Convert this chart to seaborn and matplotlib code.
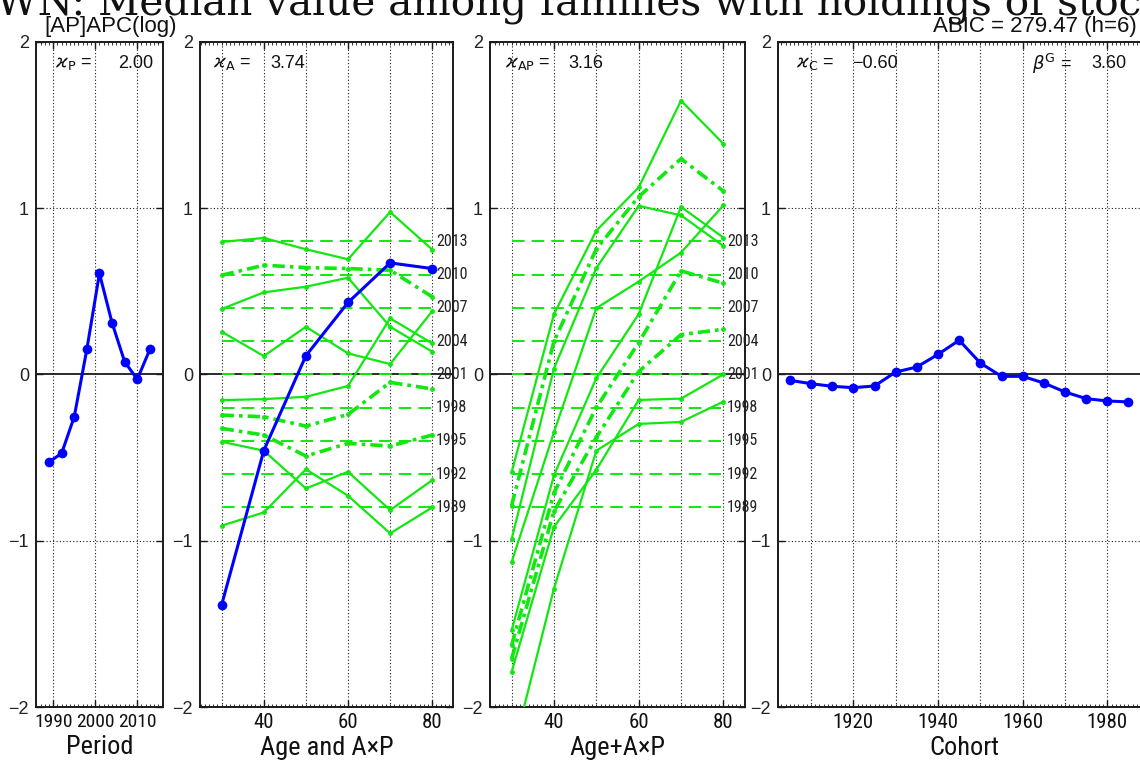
import numpy as np
import pandas as pd
import matplotlib
matplotlib.use("Agg")
import matplotlib.pyplot as plt
import seaborn as sns
from matplotlib import font_manager as fm

# ---------------- data ----------------
periods = [1989, 1992, 1995, 1998, 2001, 2004, 2007, 2010, 2013]
period_effect = [-0.527, -0.475, -0.255, 0.150, 0.607, 0.310, 0.076, -0.030, 0.150]

ages = [30, 40, 50, 60, 70, 80]
age_effect = [-1.385, -0.458, 0.112, 0.432, 0.670, 0.636]

period_levels = [-0.8, -0.6, -0.4, -0.2, 0.0, 0.2, 0.4, 0.6, 0.8]
period_labels = ["1989", "1992", "1995", "1998", "2001", "2004", "2007", "2010", "2013"]
dashdot_periods = [1995, 1998, 2010]

# Age and AxP panel (period profiles, shifted to their reference level)
axp_1989 = [-0.910, -0.830, -0.571, -0.730, -0.956, -0.800]
axp_1992 = [-0.405, -0.459, -0.686, -0.586, -0.816, -0.636]
axp_1995 = [-0.325, -0.365, -0.491, -0.415, -0.431, -0.365]
axp_1998 = [-0.245, -0.255, -0.311, -0.241, -0.048, -0.088]
axp_2001 = [-0.155, -0.149, -0.135, -0.070, 0.337, 0.186]
axp_2004 = [0.256, 0.110, 0.286, 0.126, 0.062, 0.380]
axp_2007 = [0.393, 0.493, 0.527, 0.581, 0.286, 0.136]
axp_2010 = [0.596, 0.656, 0.642, 0.636, 0.626, 0.466]
axp_2013 = [0.796, 0.820, 0.752, 0.692, 0.976, 0.750]

# Age+AxP panel
agep_1989 = [-2.295, -1.288, -0.459, -0.298, -0.286, -0.164]
agep_1992 = [-1.790, -0.917, -0.574, -0.154, -0.146, 0.000]
agep_1995 = [-1.710, -0.823, -0.379, 0.017, 0.239, 0.271]
agep_1998 = [-1.630, -0.713, -0.199, 0.191, 0.622, 0.548]
agep_2001 = [-1.540, -0.607, -0.023, 0.362, 1.007, 0.822]
agep_2004 = [-1.129, -0.348, 0.398, 0.558, 0.732, 1.016]
agep_2007 = [-0.992, 0.035, 0.639, 1.013, 0.956, 0.772]
agep_2010 = [-0.789, 0.198, 0.754, 1.068, 1.296, 1.102]
agep_2013 = [-0.589, 0.362, 0.864, 1.124, 1.646, 1.386]

cohorts = [1905, 1910, 1915, 1920, 1925, 1930, 1935, 1940, 1945,
           1950, 1955, 1960, 1965, 1970, 1975, 1980, 1985]
cohort_effect = [-0.036, -0.056, -0.072, -0.080, -0.070, 0.014, 0.044, 0.120, 0.205,
                 0.068, -0.012, -0.012, -0.052, -0.106, -0.146, -0.160, -0.166]

kappa_P = "2.00"
kappa_A = "3.74"
kappa_AP = "3.16"
kappa_C = "\u22120.60"
beta_G = "3.60"
abic_text = "ABIC = 279.47 (h=6)"
panel_title = "[AP]APC(log)"
big_title = "WN: Median value among families with holdings of stock"

axp_rows = [axp_1989, axp_1992, axp_1995, axp_1998, axp_2001, axp_2004, axp_2007, axp_2010, axp_2013]
agep_rows = [agep_1989, agep_1992, agep_1995, agep_1998, agep_2001, agep_2004, agep_2007, agep_2010, agep_2013]

# ---------------- style ----------------
sns.set_theme(style="white")
SANS = ["Liberation Sans", "DejaVu Sans"]
plt.rcParams["font.family"] = SANS
plt.rcParams["axes.unicode_minus"] = True

# pick a condensed family for tick labels / axis labels if one is installed
CONDENSED = {"condensed", "semi-condensed", "extra-condensed", "ultra-condensed"}
entries = fm.fontManager.ttflist
NARROW, NSTRETCH = "DejaVu Sans", "normal"
XT1, XT, XL, YL = 11.3, 12.5, 15, 9.5
for name, stretch, sizes in [("Liberation Sans Narrow", "normal", (14, 15, 19, 11.5)),
                             ("Roboto Condensed", "normal", (14, 15, 19, 11.5)),
                             ("Noto Sans", "condensed", (13.5, 14, 18, 11)),
                             ("DejaVu Sans", "condensed", (12, 13.5, 16, 10.5))]:
    ok = any(f.name == name and (stretch == "normal" or str(f.stretch) in CONDENSED)
             for f in entries)
    if ok:
        NARROW, NSTRETCH = name, stretch
        XT1, XT, XL, YL = sizes
        break
NFONT = dict(fontfamily=NARROW, fontstretch=NSTRETCH)

GREEN = "#10e810"
BLUE = "#0000ff"
W, H = 1140, 763

fig = plt.figure(figsize=(W / 100, H / 100), dpi=100)
fig.patch.set_facecolor("white")


def fx(px):
    return px / W


def fy(py):
    return 1 - py / H


TOP, BOT = 41.7, 707.0


def add_ax(l, r):
    return fig.add_axes([l / W, 1 - BOT / H, (r - l) / W, (BOT - TOP) / H])


ax1 = add_ax(36, 163.3)
ax2 = add_ax(200, 453.3)
ax3 = add_ax(490, 745)
ax4 = add_ax(778, 1150.5)


def setup(ax, xlim, major, gridx, xlabel, xt):
    ax.set_xlim(*xlim)
    ax.set_ylim(-2, 2)
    ax.set_xticks(major)
    ax.set_xticklabels([str(v) for v in major], fontsize=xt, color="#111111", **NFONT)
    ax.set_xticks(np.arange(np.ceil(xlim[0]), xlim[1], 1.0), minor=True)
    ax.set_yticks([-2, -1, 0, 1, 2])
    ax.set_yticklabels(["\u22122", "\u22121", "0", "1", "2"], fontsize=13, color="#222222")
    ax.tick_params(which="major", direction="in", length=5, width=1.0, color="k",
                   top=True, bottom=True, left=True, right=True, pad=5)
    ax.tick_params(axis="x", which="major", pad=4)
    ax.tick_params(which="minor", direction="in", length=2.5, width=0.6, color="k",
                   top=True, bottom=True)
    ax.tick_params(axis="y", which="minor", left=False, right=False)
    for g in gridx:
        ax.axvline(g, color="k", lw=0.8, ls=(0, (1, 2)), zorder=0.5)
    for g in (-1, 1):
        ax.axhline(g, color="k", lw=0.8, ls=(0, (1, 2)), zorder=0.5)
    ax.axhline(0, color="k", lw=1.3, zorder=1)
    for s in ax.spines.values():
        s.set_color("k")
        s.set_linewidth(1.4)
    ax.set_xlabel(xlabel, fontsize=XL, labelpad=3, color="#111111", **NFONT)
    ax.set_ylabel("")
    ax.grid(False)


setup(ax1, (1985.9, 2016.2), [1990, 2000, 2010], [1990, 2000, 2010], "Period", XT1)
setup(ax2, (24.85, 85.0), [40, 60, 80], [30, 40, 50, 60, 70, 80], "Age and A\u00d7P", XT)
setup(ax3, (24.9, 85.1), [40, 60, 80], [30, 40, 50, 60, 70, 80], "Age+A\u00d7P", XT)
setup(ax4, (1902.2, 1990.2), [1920, 1940, 1960, 1980],
      [1910, 1920, 1930, 1940, 1950, 1960, 1970, 1980], "Cohort", XT)

# ---------------- panel 1: period ----------------
sns.lineplot(x=periods, y=period_effect, ax=ax1, color=BLUE, lw=2.2, marker="o",
             markersize=7, markeredgewidth=0, estimator=None, sort=False, legend=False, zorder=4)


# ---------------- panels 2 & 3: period profiles ----------------
def period_panel(ax, rows):
    ax.hlines(period_levels, min(ages), max(ages), colors=GREEN, lw=1.4,
              linestyles=[(0, (6.5, 3.6))], zorder=2)
    for lab, lev in zip(period_labels, period_levels):
        ax.text(max(ages) + 0.9, lev, lab, fontsize=YL, color="#222222",
                ha="left", va="center", clip_on=False, zorder=6, **NFONT)
    for p, vals in zip(periods, rows):
        if p in dashdot_periods:
            sns.lineplot(x=ages, y=vals, ax=ax, color=GREEN, lw=2.6,
                         linestyle=(0, (3.4, 1.4, 1.0, 1.4)), marker="o", markersize=3.5,
                         markeredgewidth=0, estimator=None, sort=False, legend=False, zorder=3)
        else:
            sns.lineplot(x=ages, y=vals, ax=ax, color=GREEN, lw=1.6, marker="o",
                         markersize=3.5, markeredgewidth=0, estimator=None, sort=False,
                         legend=False, zorder=3)


period_panel(ax2, axp_rows)
sns.lineplot(x=ages, y=age_effect, ax=ax2, color=BLUE, lw=2.2, marker="o",
             markersize=7, markeredgewidth=0, estimator=None, sort=False, legend=False, zorder=4)
period_panel(ax3, agep_rows)

# ---------------- panel 4: cohort ----------------
sns.lineplot(x=cohorts, y=cohort_effect, ax=ax4, color=BLUE, lw=2.2, marker="o",
             markersize=7, markeredgewidth=0, estimator=None, sort=False, legend=False, zorder=4)

for ax in (ax1, ax2, ax3, ax4):
    ax.set_ylim(-2, 2)

# ---------------- annotations ----------------
ann = dict(fontsize=13, va="center", ha="left", color="#111111")
fig.text(fx(55), fy(64), r"$\varkappa_{\mathrm{P}}$ =", **ann)
fig.text(fx(118), fy(64), kappa_P, **ann)
fig.text(fx(213), fy(64), r"$\varkappa_{\mathrm{A}}$ =", **ann)
fig.text(fx(270), fy(64), kappa_A, **ann)
fig.text(fx(505), fy(64), r"$\varkappa_{\mathrm{AP}}$ =", **ann)
fig.text(fx(568), fy(64), kappa_AP, **ann)
fig.text(fx(796), fy(64), r"$\varkappa_{\mathrm{C}}$ =", **ann)
fig.text(fx(852), fy(64), kappa_C, **ann)
fig.text(fx(1032), fy(64), r"$\beta^{\mathrm{G}}$ =", **ann)
fig.text(fx(1091), fy(64), beta_G, **ann)

fig.text(fx(44), fy(32), panel_title, fontsize=16, ha="left", va="baseline", color="#111111")
fig.text(fx(1137), fy(32), abic_text, fontsize=16, ha="right", va="baseline", color="#111111")

# big title, partly outside the canvas like the reference
renderer = fig.canvas.get_renderer()
probe = fig.text(0, 0, big_title[:-1], family="DejaVu Serif", fontsize=26)
wpx = probe.get_window_extent(renderer).width
probe.remove()
size = 26 * 1146.0 / wpx
fig.text(fx(-4), fy(14), big_title, family="DejaVu Serif", fontsize=size,
         ha="left", va="baseline", color="#111111")

fig.savefig("out.png", dpi=100, facecolor="white")
